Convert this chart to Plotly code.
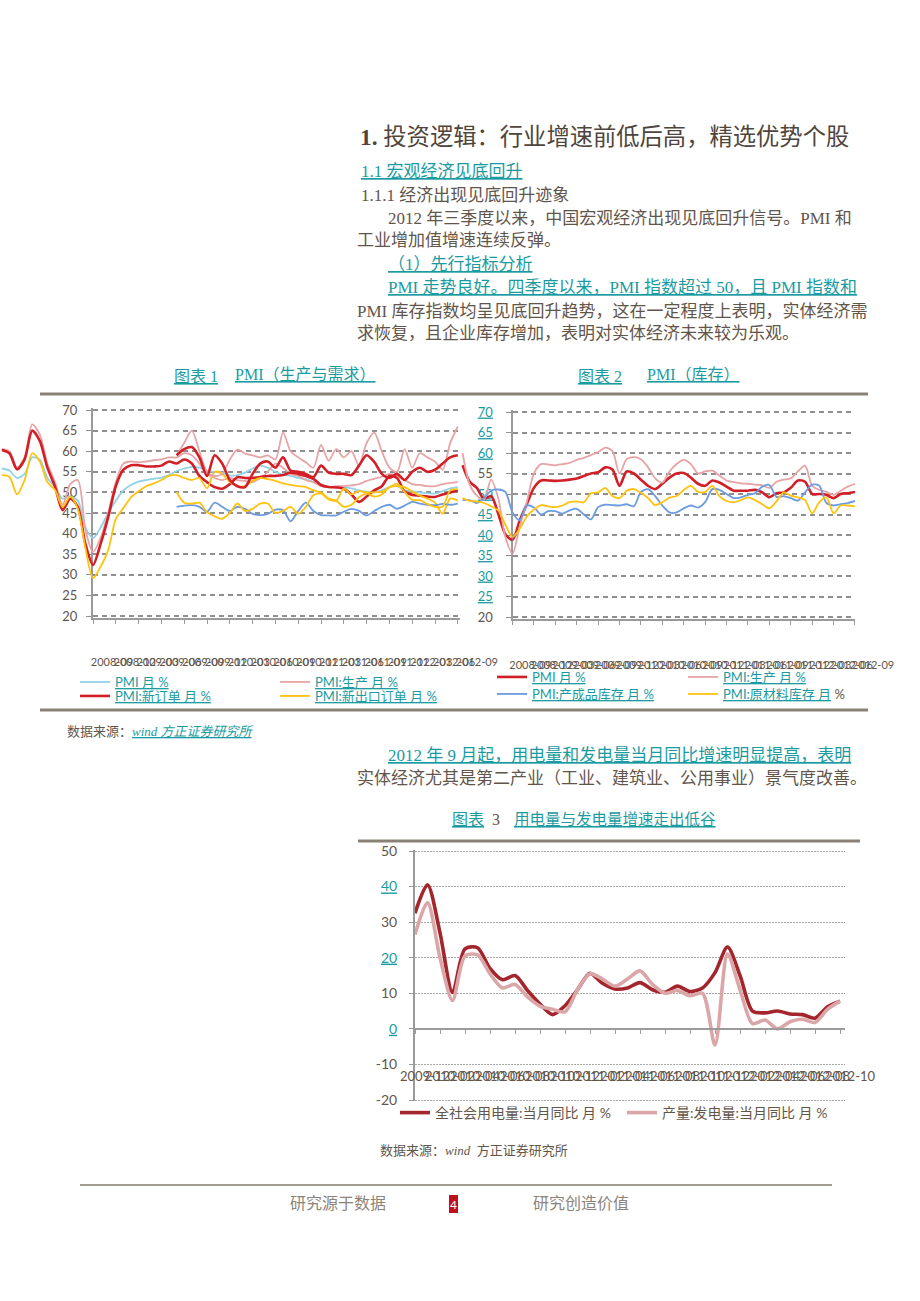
import plotly.graph_objects as go

W, H = 920, 1301
OX, OY, PW, PH = 0, 0, 920, 1301


def X(px):
    return min(max((px - OX) / PW, 0), 1)


def Y(py):
    return min(max(1 - (py - OY) / PH, 0), 1)


def months(start, n):
    y0, m0 = map(int, start.split("-"))
    return [f"{y0 + (m0 - 1 + k) // 12}-{(m0 - 1 + k) % 12 + 1:02d}" for k in range(n)]


# ---------------- data: chart 1 (PMI 生产与需求) ----------------
c1_months = months("2007-09", 61)
c1_ovl_months = c1_months[23:]
c1_ticks = c1_months[12::3]

c1_pmi = [55.8, 55.3, 53.5, 54.5, 58.5, 58, 53.5, 51.4, 48.5, 49, 48, 41.5, 38.9, 41.5, 45, 48, 50.5, 51.8, 52.6, 53, 53.3, 53.6, 54.2,
          55.2, 55.8, 56.2, 56, 55.2, 55, 54.8, 54.1, 54.2, 54.8, 55.8, 56.5, 56, 55, 54.3, 54, 53.5, 53.2, 52.5, 51.8,
          51.3, 51.3, 51.3, 51, 50.5, 50.2, 50.1, 50.5, 51.3, 51.5, 50.5, 50.3, 50, 49.8, 49.7, 50.3, 51, 51.3]
c1_prod = [60.5, 60, 56, 58.5, 66.5, 64, 57, 52.5, 47, 52, 53, 41, 35.5, 39, 45, 52.5, 57, 57.5, 57.3, 57.5, 57.8, 58, 58.5,
           58.5, 59.5, 59, 57, 54.5, 53.5, 53, 53.5, 53, 52.8, 52.5, 53.5, 55, 57, 56, 54.5, 54, 53, 52.5, 51.5,
           51.3, 51.5, 51.5, 51.7, 52, 52.8, 53.3, 53.8, 54.5, 54, 53, 52, 51.8, 51.5, 51.5, 52, 52.3, 52.5]
c1_new = [60.3, 59.5, 55.6, 58, 65, 62.5, 56, 51.4, 45.7, 48.5, 46.5, 37.5, 32.4, 37.5, 44, 51.5, 55.5, 56.6, 56.6, 56.3, 56.3, 56.5, 57.5,
          57, 58, 57, 54, 52.5, 51.3, 50.9, 52, 53.7, 53.5, 53.5, 53.7, 54, 54, 54.2, 54.8, 54.5, 54, 53.3, 51.8,
          51.3, 51.2, 50.9, 49.5, 47.7, 49, 50.5, 51.5, 54, 53.5, 50.2, 49.4, 49.2, 49, 48.9, 49.5, 50, 50.5]
c1_exp = [54.2, 53.8, 49.5, 53, 59.5, 57.5, 52.5, 50.6, 46.5, 49, 46, 36.5, 29.2, 32, 36, 43.5, 46.2, 48.8, 50.3, 51.5, 52.2, 53, 54,
          54.2, 53.5, 53, 53.5, 51, 55, 54.5, 52.5, 51.5, 51.5, 52.8, 53.5, 53.2, 52.8, 52.2, 51.8, 51.5, 51.3, 50.5, 50,
          48.5, 48, 46.5, 47, 48.8, 49.7, 49, 49.5, 51.3, 51.5, 51.3, 50.2, 49.2, 48.5, 47.5, 44.8, 48.5, 48]
# second (overlaid) set of curves visible in the picture
c1_ovl_new = [59, 60.5, 61, 58.5, 54, 59, 57, 53, 51.5, 51.3, 54.5, 57, 57.5, 56, 58.5, 55.3, 55, 54.5, 53.7, 56.5,
              54.8, 54.5, 54.5, 54.2, 56.5, 59, 57.4, 54.5, 53.5, 54.5, 53, 55, 56, 55, 55.5, 57, 58.5, 59]
c1_ovl_prod = [59, 62, 65, 60, 55, 54, 54.5, 58, 60.4, 59.4, 59, 58.5, 59, 58, 64.5, 60, 58.5, 57.3, 56, 61.5,
               57.7, 60.5, 58.5, 60, 56.5, 62, 64.5, 60, 56, 55, 60.5, 56, 59.5, 58.5, 57.5, 55.5, 62, 66]
c1_ovl_exp = [50.1, 47.5, 47.3, 47.5, 45.2, 44.2, 43.6, 45, 47.3, 45.5, 46, 47.3, 47.3, 45, 45.5, 46.5, 44.8, 46.5, 49.3, 49.7,
              48.3, 48, 50.9, 49.5, 50.3, 50, 50, 50.2, 51.2, 52.1, 50.1, 48.2, 48.1, 47.2, 46.5, 46.5, 50.5, 50.8]
c1_ovl_inv = [46.5, 46.8, 46.9, 46.5, 45.3, 47.5, 46.5, 45.5, 46.5, 46, 44.8, 44.5, 44.8, 45.8, 45.7, 43, 45.5, 47.5, 45.5, 44.5,
              44.4, 44.4, 45.3, 46, 45.5, 44.4, 45.5, 46.5, 47, 46, 46.8, 47.7, 47.3, 47, 46.9, 47.2, 47, 47.3]

# ---------------- data: chart 2 (PMI 库存) ----------------
c2_months = months("2008-02", 56)
c2_ticks = c2_months[7::3]
c2_pmi = [57, 53, 51.5, 48.8, 49.5, 45.2, 40.2, 38.8,
          43.5, 47.5, 51.5, 53.3, 53.3, 53.2, 53.3, 53.5, 53.8, 54.4,
          55, 55.3, 56.5, 56, 52, 55.5, 55, 53.5, 52, 51.2,
          52.5, 54, 55, 55.1, 54, 52.5, 52, 53.3, 52.8, 51.8,
          50.8, 50.8, 50.8, 51, 50.4, 49.2, 50.2, 50.4, 51.5, 53.3,
          53, 50, 50, 49.8, 49, 50, 50.2, 50.5]
c2_prod = [60, 52.3, 49.6, 48.6, 53.5, 49, 39.5, 35.5,
           42, 48, 55, 57.3, 57.2, 57, 57.3, 57.6, 58.3, 58.8,
           59.5, 60.2, 61.3, 60.5, 55, 58.5, 59, 58.5, 56.5, 53.8,
           52.8, 55.5, 57.3, 58.3, 57.3, 55, 55.5, 55.7, 54.5, 53.3,
           52.9, 52.6, 52.5, 52.3, 52.1, 51.5, 53, 53.5, 53.8, 55.5,
           56.9, 52, 51, 50.5, 49.8, 50.8, 51.8, 52.5]
c2_fin = [48.5, 48.5, 47.8, 49, 50.8, 51.1, 50.5, 45.5,
          43.6, 47.2, 46.7, 45, 45.8, 45.8, 45.2, 46, 46.4, 45,
          43.8, 46.8, 47.4, 47.3, 47.2, 47.5, 47, 50.5, 51.2, 49.5,
          47.2, 45.5, 45.5, 46.5, 47.2, 46.7, 48, 51.2, 51, 50,
          49, 49.2, 49.8, 50.2, 51.8, 52.2, 49.3, 49.5, 49, 48.4,
          50.4, 52.3, 52, 47.8, 47.2, 47.5, 47.8, 48.3]
c2_raw = [49, 48.3, 48.2, 47.8, 47, 46, 42.5, 39.5,
          41.5, 44.5, 46.2, 47.3, 47, 46.8, 47.2, 48, 48.2, 48,
          50.2, 50.4, 51.5, 49.5, 49, 50.8, 51.2, 50.3, 49, 47.3,
          48, 49.1, 49.5, 51, 52, 50.5, 50.5, 52, 49.5, 48.3,
          48, 48.5, 49.2, 48.5, 47.5, 46.5, 48.2, 50.4, 49.6, 49.2,
          48.5, 45.3, 48, 49.2, 45.3, 47.2, 47.2, 47]

# ---------------- data: chart 3 (用电量与发电量) ----------------
c3_months = months("2009-12", 35)
c3_ticks = c3_months[0::2]
c3_use = [32.5, 40.5, 27, 10.2, 22.5, 22.8, 17, 13.8, 15, 10.8,
          7, 4, 6.5, 11, 15.6, 12.8, 11.2, 11.5, 13, 11,
          10.3, 12, 10.5, 11.5, 15.8, 23, 15, 5, 4.5, 5,
          4.2, 4, 3, 6.2, 7.8]
c3_gen = [26.5, 35.5, 20, 8, 20.5, 20.8, 15.5, 11.5, 12.5, 9,
          6.4, 5.5, 4.8, 11, 15.5, 14, 12, 14, 16.3, 12.5,
          10, 10.8, 9.3, 10, -4.5, 21, 11, 1.5, 2.5, 0,
          2, 2.7, 1.8, 5.5, 7.8]

c1_yticks = [20, 25, 30, 35, 40, 45, 50, 55, 60, 65, 70]
c3_yticks = [-20, -10, 0, 10, 20, 30, 40, 50]

# ---------------- styles ----------------
TXT = "#62554a"
TEAL = "#1a9ba1"
GRID = "#8f8f8f"
AXC = "#9a9a9a"
CYAN = "#8fd3e6"
PINK = "#e7a4a6"
RED = "#d21f26"
YEL = "#ffc20e"
BLUE = "#6b9be0"
DRED = "#a3262c"
LPINK = "#dba6a8"
SERIF = "Liberation Serif, Noto Sans CJK SC"
SANS = "Lato, Noto Sans CJK SC"


def u(s, color=None):
    c = f";color:{color}" if color else ""
    return f'<span style="text-decoration:underline{c}">{s}</span>'


def tc(s, color):
    return f'<span style="color:{color}">{s}</span>'


fig = go.Figure()


def add(x, y, xa, ya, color, width, name=None, legend="legend", show=False):
    fig.add_trace(go.Scatter(
        x=x, y=y, xaxis=xa, yaxis=ya, mode="lines", name=name, legend=legend,
        showlegend=show, hoverinfo="skip",
        line=dict(color=color, width=width, shape="spline", smoothing=0.8)))


# chart 1
for vals, col, wd, nm, lg in [
    (c1_pmi, CYAN, 1.8, u("PMI 月 %"), "legend"),
    (c1_prod, PINK, 1.8, u("PMI:生产 月 %"), "legend2"),
    (c1_new, RED, 2.6, u("PMI:新订单 月 %"), "legend3"),
    (c1_exp, YEL, 1.8, u("PMI:新出口订单 月 %"), "legend4"),
]:
    add(c1_months, vals, "x", "y", col, wd, nm, lg, True)
    add(c1_months, vals, "x2", "y2", col, wd)
add(c1_ovl_months, c1_ovl_prod, "x", "y", PINK, 1.8)
add(c1_ovl_months, c1_ovl_inv, "x", "y", BLUE, 1.8)
add(c1_ovl_months, c1_ovl_exp, "x", "y", YEL, 1.8)
add(c1_ovl_months, c1_ovl_new, "x", "y", RED, 2.6)

# chart 2
for vals, col, wd, nm, lg in [
    (c2_pmi, RED, 2.6, u("PMI 月 %"), "legend5"),
    (c2_prod, PINK, 1.8, u("PMI:生产 月 %"), "legend6"),
    (c2_fin, BLUE, 1.8, u("PMI:产成品库存 月 %"), "legend7"),
    (c2_raw, YEL, 1.8, u("PMI:原材料库存 月") + " " + tc("%", TXT), "legend8"),
]:
    add(c2_months, vals, "x3", "y3", col, wd, nm, lg, True)
    add(c2_months, vals, "x4", "y4", col, wd)

# chart 3
add(c3_months, c3_use, "x5", "y5", DRED, 3.6, "全社会用电量:当月同比 月 %", "legend9", True)
add(c3_months, c3_gen, "x5", "y5", LPINK, 3.6, "产量:发电量:当月同比 月 %", "legend10", True)

# ---------------- axes ----------------
tickfont = dict(family=SANS, size=13, color=TXT)
xtickfont = dict(family=SANS, size=11, color=TXT)


def cat_x(domain, cats, rng, anchor, visible=True, **kw):
    d = dict(domain=domain, type="category", categoryorder="array", categoryarray=cats,
             range=rng, anchor=anchor, fixedrange=True, showgrid=False, zeroline=False, automargin=False)
    if not visible:
        d.update(visible=False)
    else:
        d.update(showline=True, linecolor=AXC, linewidth=1.5, ticks="outside", ticklen=5,
                 tickcolor=AXC, tickangle=0, tickfont=xtickfont)
    d.update(kw)
    return d


def val_y(top, bottom, rng, anchor, visible=True, **kw):
    d = dict(domain=[Y(bottom), Y(top)], range=rng, anchor=anchor, fixedrange=True, zeroline=False,
             automargin=False)
    if not visible:
        d.update(visible=False, showgrid=False)
    else:
        d.update(showline=True, linecolor=AXC, linewidth=2, ticks="outside", ticklen=5, tickcolor=GRID,
                 showgrid=True, gridcolor=GRID, gridwidth=1.5, griddash="5px,4px", tickfont=tickfont)
    d.update(kw)
    return d


# chart 1 geometry
c1_ax, c1_r, c1_step = 93, 460, 7.6
c1_i0 = c1_months.index("2008-09")
c1_top, c1_bot = 410 - 0.4 * 4.12, 616 + 0.4 * 4.12
# chart 2 geometry
c2_ax, c2_r, c2_step = 512.5, 855, 7.135
c2_i0 = c2_months.index("2008-09")
c2_top, c2_bot = 412 - 0.4 * 4.1, 617 + 0.4 * 4.1
# chart 3 geometry
c3_ax, c3_r, c3_step = 415, 845, 12.5
c3_unit = (1100 - 851) / 70
c3_top, c3_bot = 851 - 0.3 * c3_unit, 1100 + 0.3 * c3_unit
c3_zero = 851 + 50 * c3_unit

c2_ytext = [tc("20", TXT)] + [u(str(v)) for v in [25, 30, 35, 40, 45, 50]] + [tc("55", TXT)] + [u(str(v)) for v in [60, 65, 70]]
c3_ytext = [tc(str(v), TXT) if v in (-20, -10, 10, 30, 50) else u(str(v)) for v in c3_yticks]

fig.update_layout(
    xaxis=cat_x([X(c1_ax), X(c1_r)], c1_months, [c1_i0, c1_i0 + (c1_r - c1_ax) / c1_step], "y",
                tickvals=c1_ticks, ticktext=c1_ticks, ticklabelstandoff=28, ticklabelshift=19),
    yaxis=val_y(c1_top, c1_bot, [19.6, 70.4], "x", tickvals=c1_yticks, ticklabelstandoff=6),
    xaxis2=cat_x([X(OX), X(c1_ax)], c1_months, [c1_i0 - (c1_ax - OX) / c1_step, c1_i0], "y2", visible=False),
    yaxis2=val_y(c1_top, c1_bot, [19.6, 70.4], "x2", visible=False),
    xaxis3=cat_x([X(c2_ax), X(c2_r)], c2_months, [c2_i0, c2_i0 + (c2_r - c2_ax) / c2_step], "y3",
                 tickvals=c2_ticks, ticktext=c2_ticks, ticklabelstandoff=30, ticklabelshift=18),
    yaxis3=val_y(c2_top, c2_bot, [19.6, 70.4], "x3", tickvals=c1_yticks, ticktext=c2_ytext,
                 ticklabelstandoff=10, tickfont=dict(family=SANS, size=13, color=TEAL)),
    xaxis4=cat_x([X(460), X(c2_ax)], c2_months, [c2_i0 - (c2_ax - 460) / c2_step, c2_i0], "y4", visible=False),
    yaxis4=val_y(c2_top, c2_bot, [19.6, 70.4], "x4", visible=False),
    xaxis5=cat_x([X(c3_ax), X(c3_r)], c3_months, [0, (c3_r - c3_ax) / c3_step], "free",
                 position=Y(c3_zero), tickvals=c3_ticks, ticktext=c3_ticks, ticklen=4,
                 ticklabelstandoff=32, ticklabelshift=10, tickfont=dict(family=SANS, size=13, color=TXT)),
    yaxis5=val_y(c3_top, c3_bot, [-20.3, 50.3], "x5", tickvals=c3_yticks, ticktext=c3_ytext,
                 ticklen=4, tickcolor=AXC, gridcolor="#a8a8a8", gridwidth=1, griddash="2px,1px",
                 ticklabelstandoff=9, tickfont=dict(family=SANS, size=14, color=TEAL)),
)


def leg(xpx, ypx, size=13, color=TEAL):
    return dict(x=X(xpx), y=Y(ypx), xanchor="left", yanchor="middle", bgcolor="rgba(0,0,0,0)",
                borderwidth=0, itemwidth=30, orientation="v",
                font=dict(family=SANS, size=size, color=color))


fig.update_layout(
    legend=leg(75, 682), legend2=leg(275, 682), legend3=leg(75, 696), legend4=leg(275, 696),
    legend5=leg(492, 677), legend6=leg(683, 677), legend7=leg(492, 694), legend8=leg(683, 694),
    legend9=leg(395, 1113, 14, TXT), legend10=leg(622, 1113, 14, TXT),
)

# ---------------- text ----------------
ann = []


def A(text, x, y, size, color=TXT, family=SERIF, xanchor="left"):
    ann.append(dict(text=text, x=X(x), y=Y(y), xref="paper", yref="paper", xanchor=xanchor,
                    yanchor="middle", showarrow=False, font=dict(size=size, color=color, family=family)))


A("<b>1.</b> 投资逻辑：行业增速前低后高，精选优势个股", 358, 137, 23.3, "#4f453d")
A(u("1.1 宏观经济见底回升"), 359, 172, 17, TEAL)
A("1.1.1 经济出现见底回升迹象", 359, 195, 17)
A("2012 年三季度以来，中国宏观经济出现见底回升信号。PMI 和", 386, 218, 17)
A("工业增加值增速连续反弹。", 355, 241, 17)
A(u("（1）先行指标分析"), 386, 264, 17, TEAL)
A(u("PMI 走势良好。四季度以来，PMI 指数超过 50，且 PMI 指数和"), 386, 288, 17, TEAL)
A("PMI 库存指数均呈见底回升趋势，这在一定程度上表明，实体经济需", 355, 311, 17)
A("求恢复，且企业库存增加，表明对实体经济未来较为乐观。", 355, 334, 17)

A(u("图表 1"), 172, 376, 16, TEAL)
A(u("PMI（生产与需求）"), 233, 375, 16, TEAL)
A(u("图表 2"), 576, 376, 16, TEAL)
A(u("PMI（库存）"), 645, 375, 16, TEAL)
A("数据来源：" + u("<i>wind 方正证券研究所</i>", TEAL), 65, 731, 13, TXT)

A(u("2012 年 9 月起，用电量和发电量当月同比增速明显提高，表明"), 386, 755, 17, TEAL)
A("实体经济尤其是第二产业（工业、建筑业、公用事业）景气度改善。", 355, 778, 17)

A(u("图表") + tc("  3", TXT), 450, 819, 16, TEAL)
A(u("用电量与发电量增速走出低谷"), 512, 819, 15.5, TEAL)
A("数据来源：<i>wind</i>  方正证券研究所", 378, 1150, 13, TXT)

A("研究源于数据", 288, 1203, 16, "#8c847a")
A("研究创造价值", 531, 1203, 16, "#8c847a")
A("4", 453.5, 1204, 12, "#ffffff", SANS, "center")

shapes = []


def rule(x0, x1, y, w, color="#8a8176"):
    shapes.append(dict(type="line", xref="paper", yref="paper", x0=X(x0), x1=X(x1), y0=Y(y), y1=Y(y),
                       line=dict(color=color, width=w)))


rule(40, 868, 394, 3)
rule(40, 868, 710, 3)
rule(358, 860, 841, 3)
rule(80, 832, 1185, 2, "#a39d90")
shapes.append(dict(type="rect", xref="paper", yref="paper", x0=X(449), x1=X(458), y0=Y(1213), y1=Y(1195),
                   fillcolor="#c0101a", line=dict(width=0)))

fig.update_layout(
    width=W, height=H, margin=dict(l=0, r=0, t=0, b=0, pad=0, autoexpand=False),
    paper_bgcolor="white", plot_bgcolor="rgba(0,0,0,0)",
    annotations=ann, shapes=shapes,
)

fig.write_html("out.html")
